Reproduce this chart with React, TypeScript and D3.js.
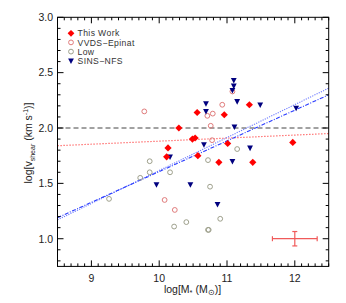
import React from "react";
import * as d3 from "d3";

const thisWorkX = [10.11, 10.13, 10.29, 10.49, 10.53, 10.56, 10.57, 10.88, 10.96, 11.01, 11.33, 11.38, 11.97];
const thisWorkY = [1.74, 1.82, 2.0, 1.9, 1.91, 2.14, 1.75, 1.69, 2.12, 1.86, 2.21, 1.69, 1.87];

const vvdsX = [9.78, 11.08, 10.93, 10.79, 10.71, 10.76, 10.78, 10.08, 10.23];
const vvdsY = [2.15, 2.33, 2.21, 2.13, 2.11, 2.02, 1.89, 1.35, 1.26];

const lowX = [9.26, 9.72, 9.86, 9.86, 10.16, 10.22, 10.4, 10.72, 10.75, 10.72, 10.73, 10.9, 11.15];
const lowY = [1.36, 1.55, 1.7, 1.6, 1.6, 1.11, 1.15, 1.71, 1.47, 1.08, 1.08, 1.18, 1.81];

const sinsX = [11.1, 11.1, 11.08, 11.15, 10.69, 10.69, 11.49, 11.11, 12.02, 10.66, 11.34, 10.16, 11.08, 9.96, 10.46, 10.86];
const sinsY = [2.43, 2.38, 2.34, 2.24, 2.22, 2.15, 2.21, 2.01, 2.18, 1.85, 1.82, 1.74, 1.7, 1.49, 1.49, 1.31];

const xTicks = [9, 10, 11, 12];
const yTicks = [1.0, 1.5, 2.0, 2.5, 3.0];

const redFitX = [8.5, 12.5];
const redFitY = [1.84, 1.95];
const blueDotX = [8.5, 12.5];
const blueDotY = [1.17, 2.36];
const blueDashDotX = [8.5, 12.5];
const blueDashDotY = [1.19, 2.3];
const hLineY = 2.0;

const errCenter = [12.0, 1.0];
const errX = 0.33;
const errY = 0.065;

const legendLabels = ["This Work", "VVDS\u2212Epinat", "Low", "SINS\u2212NFS"];

export default function App() {
  const W = 346, H = 303;
  const L = 57.5, R = 328.7, T = 17.3, B = 266.4;
  const x = d3.scaleLinear().domain([8.5, 12.5]).range([L, R]);
  const y = d3.scaleLinear().domain([0.75, 3.0]).range([B, T]);
  const line = d3.line<[number, number]>().x(d => x(d[0])).y(d => y(d[1]));

  const xMinor = d3.range(8.5, 12.5001, 0.1).map(v => +v.toFixed(2));
  const yMinor = d3.range(0.8, 3.0001, 0.1).map(v => +v.toFixed(2));
  const isXMajor = (v: number) => xTicks.some(t => Math.abs(t - v) < 1e-6);
  const isYMajor = (v: number) => yTicks.some(t => Math.abs(t - v) < 1e-6);

  const font = "Liberation Sans, Arial, sans-serif";
  const textColor = "#222";
  const red = "#ff0000";
  const pink = "#e07c7c";
  const olive = "#9ea08c";
  const navy = "#00007f";

  const diamond = (cx: number, cy: number, s = 3.6) =>
    `M${cx},${cy - s}L${cx + s},${cy}L${cx},${cy + s}L${cx - s},${cy}Z`;
  const tri = (cx: number, cy: number, s = 2.9) =>
    `M${cx - s},${cy - s * 0.8}L${cx + s},${cy - s * 0.8}L${cx},${cy + s * 1.1}Z`;

  const legendY = [33.3, 42.4, 51.6, 60.8];
  const lx = 71, ltx = 77.5;

  return (
    <svg width={W} height={H} style={{ position: "absolute", left: 0, top: 0, background: "#fff" }} fontFamily={font}>
      <rect x={0} y={0} width={W} height={H} fill="#fff" />
      {/* lines */}
      <path d={line([[8.5, hLineY], [12.5, hLineY]])!} stroke="#444" strokeWidth={1} strokeDasharray="5,3" fill="none" />
      <path d={line(redFitX.map((v, i) => [v, redFitY[i]] as [number, number]))!} stroke="#ff5050" strokeWidth={1.2} strokeDasharray="1.2,1.8" fill="none" />
      <path d={line(blueDotX.map((v, i) => [v, blueDotY[i]] as [number, number]))!} stroke="#6f7cff" strokeWidth={1.1} strokeDasharray="1.2,1.2" fill="none" />
      <path d={line(blueDashDotX.map((v, i) => [v, blueDashDotY[i]] as [number, number]))!} stroke="#2a3cff" strokeWidth={1.1} strokeDasharray="4,1.5,1,1.5" fill="none" />

      {/* Low */}
      {lowX.map((v, i) => (
        <circle key={"l" + i} cx={x(v)} cy={y(lowY[i])} r={2.4} fill="none" stroke={olive} strokeWidth={1} />
      ))}
      {/* VVDS */}
      {vvdsX.map((v, i) => (
        <circle key={"v" + i} cx={x(v)} cy={y(vvdsY[i])} r={2.4} fill="none" stroke={pink} strokeWidth={1} />
      ))}
      {/* SINS */}
      {sinsX.map((v, i) => (
        <path key={"s" + i} d={tri(x(v), y(sinsY[i]))} fill={navy} />
      ))}
      {/* This work */}
      {thisWorkX.map((v, i) => (
        <path key={"t" + i} d={diamond(x(v), y(thisWorkY[i]))} fill={red} />
      ))}

      {/* error bar */}
      <g stroke="#f05a5a" strokeWidth={1.2} fill="none">
        <line x1={x(errCenter[0] - errX)} x2={x(errCenter[0] + errX)} y1={y(errCenter[1])} y2={y(errCenter[1])} />
        <line x1={x(errCenter[0])} x2={x(errCenter[0])} y1={y(errCenter[1] - errY)} y2={y(errCenter[1] + errY)} />
        <line x1={x(errCenter[0] - errX)} x2={x(errCenter[0] - errX)} y1={y(errCenter[1]) - 2.5} y2={y(errCenter[1]) + 2.5} />
        <line x1={x(errCenter[0] + errX)} x2={x(errCenter[0] + errX)} y1={y(errCenter[1]) - 2.5} y2={y(errCenter[1]) + 2.5} />
        <line x1={x(errCenter[0]) - 2.5} x2={x(errCenter[0]) + 2.5} y1={y(errCenter[1] - errY)} y2={y(errCenter[1] - errY)} />
        <line x1={x(errCenter[0]) - 2.5} x2={x(errCenter[0]) + 2.5} y1={y(errCenter[1] + errY)} y2={y(errCenter[1] + errY)} />
      </g>

      {/* frame & ticks */}
      <rect x={L} y={T} width={R - L} height={B - T} fill="none" stroke="#000" strokeWidth={1} />
      {xMinor.map((v, i) => {
        const len = isXMajor(v) ? 6 : 3;
        return (
          <g key={"xt" + i} stroke="#000" strokeWidth={1}>
            <line x1={x(v)} x2={x(v)} y1={B} y2={B - len} />
            <line x1={x(v)} x2={x(v)} y1={T} y2={T + len} />
          </g>
        );
      })}
      {yMinor.map((v, i) => {
        const len = isYMajor(v) ? 6 : 3;
        return (
          <g key={"yt" + i} stroke="#000" strokeWidth={1}>
            <line x1={L} x2={L + len} y1={y(v)} y2={y(v)} />
            <line x1={R} x2={R - len} y1={y(v)} y2={y(v)} />
          </g>
        );
      })}
      {xTicks.map(v => (
        <text key={"xl" + v} x={x(v)} y={281.5} fontSize={10.5} textAnchor="middle" fill={textColor}>{v}</text>
      ))}
      {yTicks.map(v => (
        <text key={"yl" + v} x={53} y={y(v) + 3.8} fontSize={10.5} textAnchor="end" fill={textColor}>{v.toFixed(1)}</text>
      ))}

      {/* axis titles */}
      <text x={192.5} y={293} fontSize={10.5} textAnchor="middle" fill={textColor}>
        log[M<tspan fontSize={7.5} dy={2}>*</tspan><tspan dy={-2}> (M</tspan><tspan fontSize={7.5} dy={2}>{"\u2299"}</tspan><tspan dy={-2}>)]</tspan>
      </text>
      <text transform={`translate(32,143) rotate(-90)`} fontSize={10.5} textAnchor="middle" fill={textColor}>
        log[v<tspan fontSize={7} dy={2.5}>shear</tspan><tspan dy={-2.5}> (km s</tspan><tspan fontSize={7} dy={-4}>-1</tspan><tspan dy={4}>)]</tspan>
      </text>

      {/* legend */}
      <path d={diamond(lx, legendY[0], 3.4)} fill={red} />
      <circle cx={lx} cy={legendY[1]} r={2.4} fill="none" stroke={pink} strokeWidth={1} />
      <circle cx={lx} cy={legendY[2]} r={2.4} fill="none" stroke={olive} strokeWidth={1} />
      <path d={tri(lx, legendY[3])} fill={navy} />
      {legendLabels.map((t, i) => (
        <text key={"lg" + i} x={ltx} y={legendY[i] + 3.1} fontSize={8.6} letterSpacing={0.4} fill="#333">{t}</text>
      ))}
    </svg>
  );
}
